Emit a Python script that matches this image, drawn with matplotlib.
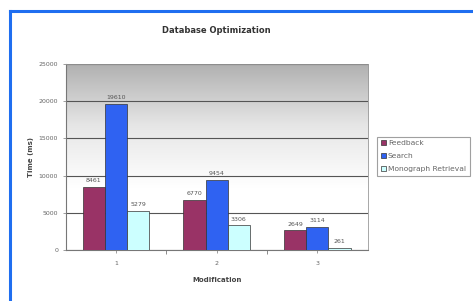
import numpy as np
import matplotlib.pyplot as plt
from matplotlib.colors import LinearSegmentedColormap

# data
modifications = ["1", "2", "3"]
feedback = [8461, 6770, 2649]
search = [19610, 9454, 3114]
monograph = [5279, 3306, 261]
series_names = ["Feedback", "Search", "Monograph Retrieval"]

fig = plt.figure(figsize=(4.73, 3.01), dpi=100)
fig.patch.set_facecolor("white")

# blue frame on the left and top
fig.add_artist(plt.Line2D([10 / 473, 10 / 473], [0, 1 - 11 / 301], color="#1f6ef0", lw=2.2))
fig.add_artist(plt.Line2D([10 / 473, 1], [1 - 11 / 301, 1 - 11 / 301], color="#1f6ef0", lw=2.2))

ax = fig.add_axes([65.7 / 473, 1 - 250 / 301, 302 / 473, 186 / 301])

# gray gradient background
grad = LinearSegmentedColormap.from_list("g", ["#ffffff", "#ffffff", "#e6e6e6", "#b0b0b0"])
ax.imshow(np.linspace(0, 1, 256).reshape(-1, 1), cmap=grad, aspect="auto",
          extent=[0, 1, 0, 1], transform=ax.transAxes, origin="lower", zorder=0)

x = np.arange(len(modifications))
w = 0.22
colors = ["#993366", "#2f62f2", "#ccffff"]
for i, (vals, name, c) in enumerate(zip([feedback, search, monograph], series_names, colors)):
    bars = ax.bar(x + (i - 1) * w, vals, w, color=c, edgecolor="#333333", lw=0.5,
                  label=name, zorder=3)
    for b, v in zip(bars, vals):
        ax.text(b.get_x() + b.get_width() / 2, v + 500, str(v), ha="center", va="bottom",
                fontsize=4.5, color="#555555", zorder=4)

ax.set_xlim(-0.5, 2.5)
ax.set_ylim(0, 25000)
ax.set_yticks(range(0, 25001, 5000))
ax.set_xticks(x)
ax.set_xticklabels(modifications)
ax.grid(axis="y", color="#555555", lw=0.8, zorder=1)
ax.set_axisbelow(True)
for s in ["top", "right"]:
    ax.spines[s].set_color("#999999")
    ax.spines[s].set_linewidth(0.6)
ax.spines["left"].set_color("#777777")
ax.spines["bottom"].set_color("#777777")
ax.tick_params(labelsize=4.5, colors="#777777", labelcolor="#666666", length=2, width=0.5)
ax.tick_params(axis="x", pad=6)
ax.set_xticks([0.5, 1.5], minor=True)
ax.tick_params(which="minor", length=3, color="#777777")

ax.set_xlabel("Modification", fontsize=5, fontweight="bold", color="#444444", labelpad=8)
ax.set_ylabel("Time (ms)", fontsize=5, fontweight="bold", color="#444444", labelpad=3)
ax.set_title("Database Optimization", fontsize=6, fontweight="bold", color="#333333", pad=22)

leg = ax.legend(loc="upper left", bbox_to_anchor=(1.02, 0.63), fontsize=5.4,
                frameon=True, fancybox=False, handlelength=0.6, handleheight=0.6,
                handletextpad=0.3, borderpad=0.5, labelspacing=0.9, labelcolor="#666666")
leg.get_frame().set_edgecolor("#888888")
leg.get_frame().set_linewidth(0.8)

fig.savefig("out.png", dpi=100)
